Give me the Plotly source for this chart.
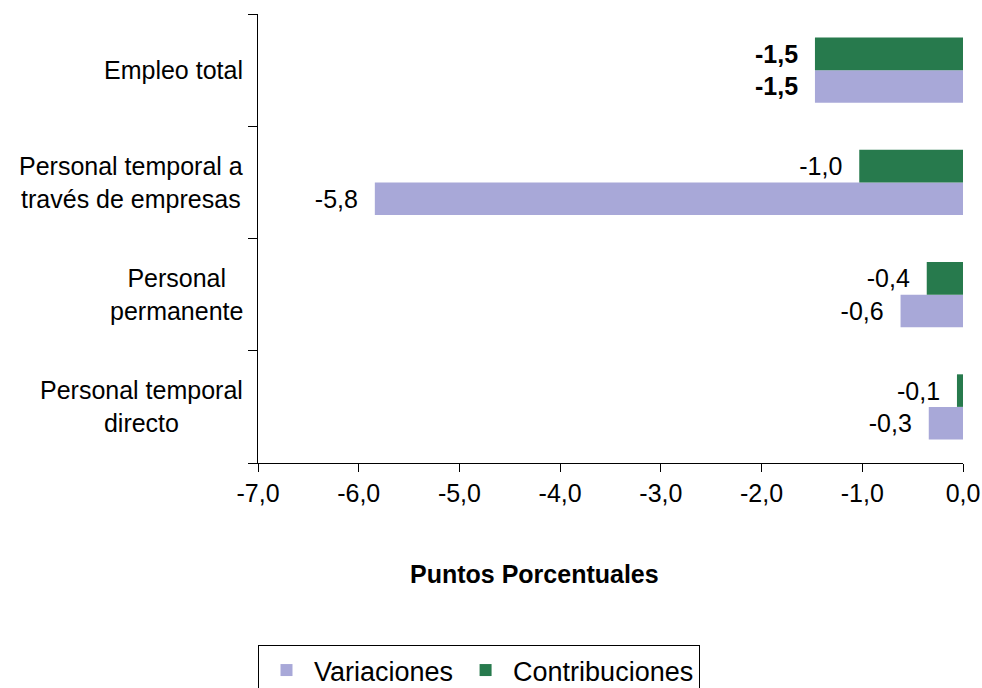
import plotly.graph_objects as go

# Data (display order, top to bottom)
categories = [
    "Empleo total",
    "Personal temporal a<br>través de empresas",
    "Personal<br>permanente",
    "Personal temporal<br>directo",
]
variaciones = [-1.47, -5.84, -0.62, -0.34]
contribuciones = [-1.47, -1.03, -0.36, -0.06]
bold_labels = [True, False, False, False]

x_tickvals = [-7, -6, -5, -4, -3, -2, -1, 0]
x_ticktext = ["-7,0", "-6,0", "-5,0", "-4,0", "-3,0", "-2,0", "-1,0", "0,0"]

FONT = "Liberation Sans, Arial, sans-serif"
FS = 25
PAD = "\u00a0\u00a0"


def fmt(v, bold):
    s = f"{v:.1f}".replace(".", ",")
    s = s + PAD
    return f"<b>{s}</b>" if bold else s


fig = go.Figure()
fig.add_trace(go.Bar(
    name="Variaciones", orientation="h",
    y=categories, x=variaciones,
    marker=dict(color="#A8A8D8", line=dict(width=0)),
    text=[fmt(v, b) for v, b in zip(variaciones, bold_labels)],
    textposition="outside", constraintext="none", cliponaxis=False,
    textfont=dict(family=FONT, size=FS, color="black"),
))
fig.add_trace(go.Bar(
    name="Contribuciones", orientation="h",
    y=categories, x=contribuciones,
    marker=dict(color="#277A4D", line=dict(width=0)),
    text=[fmt(v, b) for v, b in zip(contribuciones, bold_labels)],
    textposition="outside", constraintext="none", cliponaxis=False,
    textfont=dict(family=FONT, size=FS, color="black"),
))

for c in categories:
    fig.add_annotation(
        x=-0.0184, xref="paper", y=c, yref="y",
        text=c, showarrow=False, xanchor="right", align="center",
        font=dict(family=FONT, size=FS, color="black"),
    )

fig.add_annotation(
    x=0.3915, xref="paper", y=-0.2472, yref="paper",
    text="<b>Puntos Porcentuales</b>", showarrow=False,
    xanchor="center", yanchor="middle",
    font=dict(family=FONT, size=FS, color="black"),
)

fig.update_layout(
    width=982, height=688,
    margin=dict(l=258, r=19, t=14, b=225, autoexpand=False),
    paper_bgcolor="white", plot_bgcolor="white",
    barmode="group", bargap=0.42, bargroupgap=0,
    font=dict(family=FONT, size=FS, color="black"),
    showlegend=True,
    legend=dict(
        orientation="h", x=0, xref="paper", y=1 - 645 / 688, yref="container",
        xanchor="left", yanchor="top",
        bordercolor="black", borderwidth=1, itemwidth=45,
        font=dict(family=FONT, size=27, color="black"),
    ),
    xaxis=dict(
        range=[-7, 0], tickvals=x_tickvals, ticktext=x_ticktext,
        automargin=False,
        showgrid=False, zeroline=False,
        showline=True, linecolor="black", linewidth=1,
        ticks="outside", ticklen=8, tickcolor="black",
        tickfont=dict(family=FONT, size=FS, color="black"),
    ),
    yaxis=dict(
        categoryorder="array", categoryarray=categories[::-1],
        automargin=False,
        showticklabels=False, showgrid=False, zeroline=False,
        showline=True, linecolor="black", linewidth=1,
        ticks="outside", ticklen=9, tickcolor="black", tickson="boundaries",
    ),
)

fig.write_html(
    "out.html",
    config={"displayModeBar": False},
    post_script="document.body.style.margin='0';document.body.style.overflow='hidden';",
)
